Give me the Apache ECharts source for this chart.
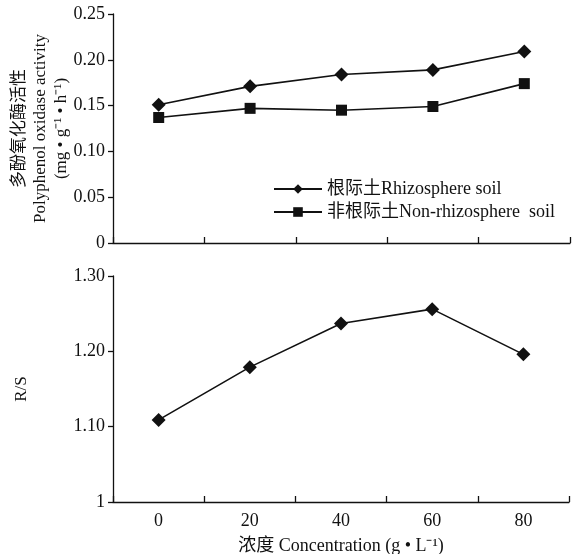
<!DOCTYPE html>
<html><head><meta charset="utf-8">
<script src="https://cdn.jsdelivr.net/npm/echarts@6/dist/echarts.min.js"></script>
<style>html,body{margin:0;padding:0;background:#fff}#c{width:578px;height:554px}</style>
</head><body><div id="c"></div>
<script>
const categories = ['0', '20', '40', '60', '80'];
const rhizosphere = [0.151, 0.171, 0.184, 0.189, 0.209];
const nonRhizosphere = [0.137, 0.147, 0.145, 0.149, 0.174];
const ratioRS = [1.109, 1.179, 1.237, 1.256, 1.196];
const topTicks = [0, 0.05, 0.10, 0.15, 0.20, 0.25];
const bottomTicks = [1, 1.10, 1.20, 1.30];

const F = '"Liberation Serif","Times New Roman","Noto Sans CJK SC",serif';
const black = '#111';
const chart = echarts.init(document.getElementById('c'), null, {renderer: 'canvas'});
const axisLine = {show: true, lineStyle: {color: black, width: 1.3}};
chart.setOption({
  backgroundColor: '#fff',
  animation: false,
  textStyle: {fontFamily: F, color: black},
  legend: {
    orient: 'vertical', left: 268, top: 175, itemGap: 5, itemWidth: 48, itemHeight: 12,
    textStyle: {fontFamily: F, fontSize: 18, color: black},
    data: ['根际土Rhizosphere soil', '非根际土Non-rhizosphere  soil']
  },
  grid: [
    {left: 113, top: 14, width: 457, height: 229, outerBoundsMode: 'none', containLabel: false},
    {left: 113, top: 276, width: 456, height: 226, outerBoundsMode: 'none', containLabel: false}
  ],
  xAxis: [
    {gridIndex: 0, type: 'category', data: categories, boundaryGap: true,
     axisLine: axisLine, axisTick: {show: true, inside: true, length: 6, lineStyle: {color: black, width: 1.3}},
     axisLabel: {show: false}},
    {gridIndex: 1, type: 'category', data: categories, boundaryGap: true,
     axisLine: axisLine, axisTick: {show: true, inside: true, length: 6, lineStyle: {color: black, width: 1.3}},
     axisLabel: {fontFamily: F, fontSize: 18, color: black, margin: 10},
     name: '浓度 Concentration (g • L⁻¹)', nameLocation: 'middle', nameGap: 35, nameMoveOverlap: false,
     nameTextStyle: {fontFamily: F, fontSize: 18, color: black}}
  ],
  yAxis: [
    {gridIndex: 0, type: 'value', min: topTicks[0], max: topTicks[topTicks.length-1], interval: 0.05,
     axisLine: axisLine, axisTick: {show: true, length: 5, lineStyle: {color: black, width: 1.3}},
     splitLine: {show: false},
     axisLabel: {fontFamily: F, fontSize: 18, color: black, margin: 8,
       formatter: v => v === 0 ? '0' : v.toFixed(2)},
     name: '多酚氧化酶活性\nPolyphenol oxidase activity\n(mg • g⁻¹ • h⁻¹)', nameLocation: 'middle', nameGap: 41,
     nameRotate: 90, nameMoveOverlap: false,
     nameTextStyle: {fontFamily: F, fontSize: 17, color: black, lineHeight: 21}},
    {gridIndex: 1, type: 'value', min: bottomTicks[0], max: bottomTicks[bottomTicks.length-1], interval: 0.1,
     axisLine: axisLine, axisTick: {show: true, length: 5, lineStyle: {color: black, width: 1.3}},
     splitLine: {show: false},
     axisLabel: {fontFamily: F, fontSize: 18, color: black, margin: 8,
       formatter: v => Math.abs(v - 1) < 1e-9 ? '1' : v.toFixed(2)},
     name: 'R/S', nameLocation: 'middle', nameGap: 83, nameRotate: 90, nameMoveOverlap: false,
     nameTextStyle: {fontFamily: F, fontSize: 17, color: black}}
  ],
  series: [
    {name: '根际土Rhizosphere soil', type: 'line', xAxisIndex: 0, yAxisIndex: 0, data: rhizosphere,
     symbol: 'diamond', symbolSize: 14, lineStyle: {color: black, width: 1.6},
     itemStyle: {color: black}},
    {name: '非根际土Non-rhizosphere  soil', type: 'line', xAxisIndex: 0, yAxisIndex: 0, data: nonRhizosphere,
     symbol: 'rect', symbolSize: 11, lineStyle: {color: black, width: 1.6},
     itemStyle: {color: black}},
    {name: 'R/S', type: 'line', xAxisIndex: 1, yAxisIndex: 1, data: ratioRS,
     symbol: 'diamond', symbolSize: 14, lineStyle: {color: black, width: 1.6},
     itemStyle: {color: black}}
  ]
});
</script></body></html>
